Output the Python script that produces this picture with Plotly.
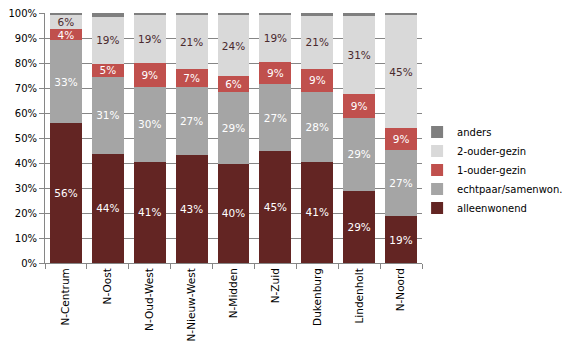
import plotly.graph_objects as go

categories = ["N-Centrum", "N-Oost", "N-Oud-West", "N-Nieuw-West", "N-Midden",
              "N-Zuid", "Dukenburg", "Lindenholt", "N-Noord"]
alleenwonend = [55.9, 43.7, 40.6, 43.3, 39.8, 44.7, 40.6, 28.8, 18.7]
echtpaar = [33.2, 30.7, 29.9, 27.2, 28.6, 26.8, 27.9, 29.3, 26.6]
een_ouder = [4.4, 5.4, 9.4, 7.3, 6.4, 8.9, 9.1, 9.4, 8.6]
twee_ouder = [5.6, 18.6, 19.2, 21.3, 24.3, 18.9, 21.3, 31.4, 45.3]
anders = [0.9, 1.6, 0.9, 0.9, 0.9, 0.7, 1.1, 1.1, 0.8]
y_ticks = list(range(0, 101, 10))
y_tick_labels = [f"{v}%" for v in y_ticks]

series = [
    ("alleenwonend", alleenwonend, "#632523", "white"),
    ("echtpaar/samenwon.", echtpaar, "#A5A5A5", "white"),
    ("1-ouder-gezin", een_ouder, "#C0504D", "white"),
    ("2-ouder-gezin", twee_ouder, "#D9D9D9", "#4A2A2E"),
    ("anders", anders, "#7F7F7F", None),
]

fig = go.Figure()
for name, vals, color, tcolor in series:
    if tcolor:
        kw = dict(texttemplate="%{y:.0f}%", textposition="inside",
                  insidetextanchor="middle", textangle=0,
                  textfont=dict(family="DejaVu Sans", size=10.5, color=tcolor))
    else:
        kw = dict(textposition="none")
    fig.add_trace(go.Bar(x=categories, y=vals, name=name,
                         marker=dict(color=color, line=dict(width=0)),
                         hoverinfo="skip", **kw))

# the page body adds an 8px offset; figure size and margins compensate for it
fig.update_layout(
    barmode="stack",
    bargap=0.24,
    width=571, height=348,
    margin=dict(l=37, r=157, t=5, b=93, autoexpand=False),
    paper_bgcolor="white", plot_bgcolor="white",
    font=dict(family="DejaVu Sans", size=10, color="black"),
    uniformtext=dict(minsize=10.5, mode="show"),
    showlegend=True,
    legend=dict(traceorder="reversed", x=0.987, xanchor="left", y=0.372,
                yanchor="middle", font=dict(family="DejaVu Sans", size=10, color="black"),
                bgcolor="rgba(0,0,0,0)", tracegroupgap=0),
    xaxis=dict(tickangle=-90, tickson="boundaries", ticks="outside", ticklen=5,
               tickcolor="#868686", showline=True, linecolor="#868686",
               showgrid=False, tickfont=dict(size=10.5), automargin=False),
    yaxis=dict(range=[0, 100], tickvals=y_ticks, ticktext=y_tick_labels, ticks="outside",
               ticklen=5, tickcolor="#868686", showline=True, linecolor="#868686",
               showgrid=True, gridcolor="#868686", gridwidth=1, zeroline=False,
               tickfont=dict(size=10), automargin=False, ticklabeloverflow="allow"),
)

fig.write_html("out.html")
